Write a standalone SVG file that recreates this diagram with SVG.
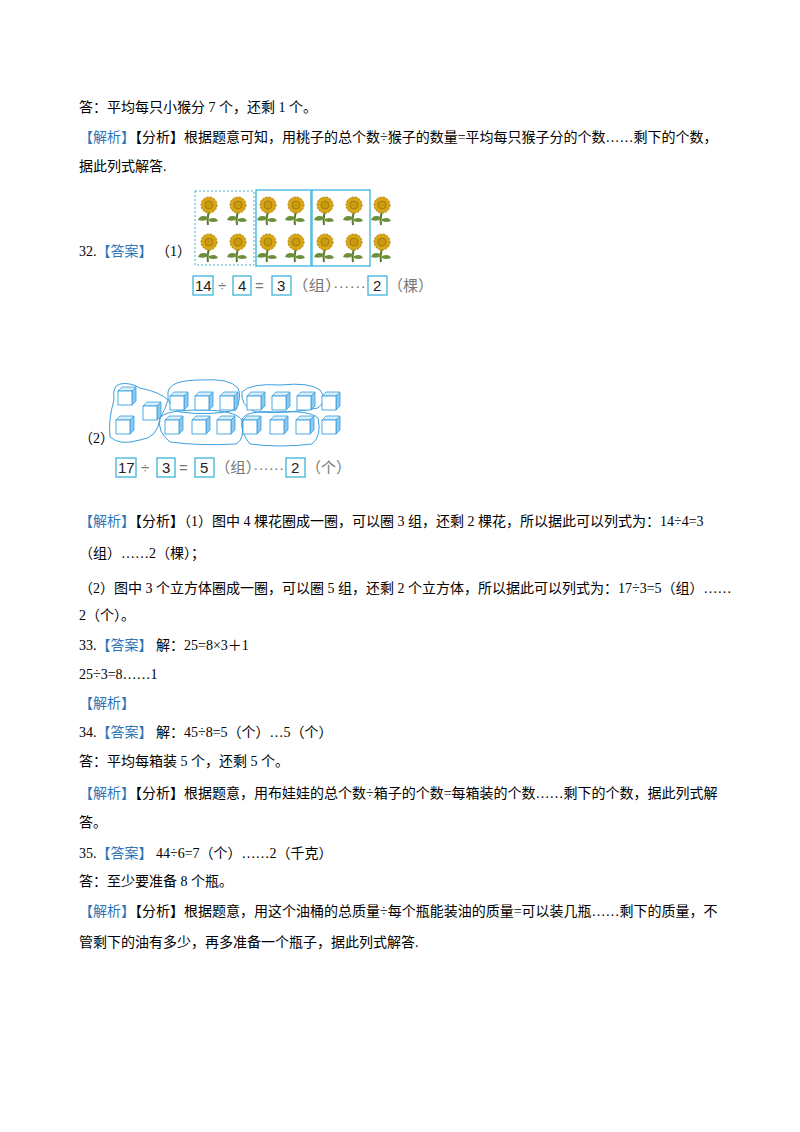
<svg xmlns="http://www.w3.org/2000/svg" width="800" height="1132" viewBox="0 0 800 1132">
<style>
text{font-family:"Liberation Serif","Noto Sans CJK SC",serif;font-size:14px;fill:#000}
.b{fill:#2e75b6}
.eq{font-family:"Liberation Sans","Noto Sans CJK SC",sans-serif;font-size:15px;fill:#222}
.g{fill:#777}
.bx{fill:none;stroke:#3cb4d8;stroke-width:1.3}
.loop{fill:none;stroke:#3b9fe0;stroke-width:1}
</style>
<defs>
<g id="sf">
<path d="M0,6 Q-2,14 -1,20" stroke="#5a7a2a" stroke-width="2" fill="none"/>
<path d="M-1,12 Q-9,9 -11,15 Q-5,17 -1,14Z" fill="#6d8f3a"/>
<path d="M0,14 Q7,11 9,16 Q4,18 0,16Z" fill="#6d8f3a"/>
<circle r="8" fill="#d8a514"/>
<circle r="8" fill="none" stroke="#b08010" stroke-width="1" stroke-dasharray="2 1.5"/>
<circle r="4" fill="#c79a10" stroke="#8a6a10" stroke-width="0.6"/>
</g>
<g id="cube">
<path d="M0,4 L4,0 L18,0 L14,4Z" fill="#d6eefa" stroke="#3b9fe0" stroke-width="0.8"/>
<path d="M14,4 L18,0 L18,14 L14,18Z" fill="#8cc9ee" stroke="#3b9fe0" stroke-width="0.8"/>
<rect x="0" y="4" width="14" height="14" fill="#fff" stroke="#3b9fe0" stroke-width="0.9"/>
</g>
</defs>
<text x="79" y="112">答：平均每只小猴分 7 个，还剩 1 个。</text>
<text x="79" y="142"><tspan class="b">【解析】</tspan>【分析】根据题意可知，用桃子的总个数÷猴子的数量=平均每只猴子分的个数……剩下的个数，</text>
<text x="79" y="171">据此列式解答.</text>
<g id="q32-flowers">
<rect x="195" y="191" width="59" height="74" fill="none" stroke="#3cb4d8" stroke-width="1" stroke-dasharray="2 2"/>
<rect x="256" y="190" width="55" height="76" class="bx"/>
<rect x="312" y="190" width="58" height="76" class="bx"/>
<g>
<use href="#sf" x="209" y="205"/><use href="#sf" x="238" y="205"/><use href="#sf" x="268" y="205"/><use href="#sf" x="296" y="205"/><use href="#sf" x="325" y="205"/><use href="#sf" x="354" y="205"/><use href="#sf" x="382" y="205"/>
<use href="#sf" x="209" y="242"/><use href="#sf" x="238" y="242"/><use href="#sf" x="268" y="242"/><use href="#sf" x="296" y="242"/><use href="#sf" x="325" y="242"/><use href="#sf" x="354" y="242"/><use href="#sf" x="382" y="242"/>
</g>
</g>
<text x="79" y="256">32.<tspan class="b">【答案】</tspan> （1）</text>
<g id="q32-eq1">
<rect x="193" y="276" width="20" height="19" class="bx"/><text x="195" y="291" class="eq">14</text>
<text x="218" y="291" class="eq g">÷</text>
<rect x="233" y="276" width="18" height="19" class="bx"/><text x="238" y="291" class="eq">4</text>
<text x="255" y="291" class="eq g">=</text>
<rect x="272" y="276" width="19" height="19" class="bx"/><text x="277" y="291" class="eq">3</text>
<text x="292" y="291" class="eq g" textLength="74" lengthAdjust="spacingAndGlyphs">（组）······</text>
<rect x="368" y="276" width="19" height="19" class="bx"/><text x="373" y="291" class="eq">2</text>
<text x="388" y="291" class="eq g">（棵）</text>
</g>
<g id="q32-cubes">
<path class="loop" d="M120,384 Q112,386 114,400 Q108,420 110,437 Q120,446 140,440 Q158,438 160,418 Q165,410 168,400 Q160,392 140,388 Q130,382 120,384Z"/>
<path class="loop" d="M168,392 Q170,380 200,380 Q230,378 238,388 Q242,396 236,410 Q210,416 180,412 Q166,406 168,392Z"/>
<path class="loop" d="M242,392 Q250,383 280,385 Q310,382 320,390 Q328,400 318,408 Q290,414 255,412 Q240,405 242,392Z"/>
<path class="loop" d="M160,418 Q165,410 200,410 Q235,410 242,420 Q245,440 236,444 Q200,446 170,442 Q157,432 160,418Z"/>
<path class="loop" d="M242,420 Q245,410 275,412 Q310,410 318,418 Q322,436 312,444 Q280,448 250,444 Q240,432 242,420Z"/>
<use href="#cube" x="118" y="387"/><use href="#cube" x="143" y="402"/>
<use href="#cube" x="170" y="392"/><use href="#cube" x="195" y="392"/><use href="#cube" x="220" y="392"/><use href="#cube" x="247" y="392"/><use href="#cube" x="272" y="392"/><use href="#cube" x="297" y="392"/><use href="#cube" x="322" y="392"/>
<use href="#cube" x="116" y="416"/><use href="#cube" x="165" y="416"/><use href="#cube" x="192" y="416"/><use href="#cube" x="217" y="416"/><use href="#cube" x="243" y="416"/><use href="#cube" x="270" y="416"/><use href="#cube" x="296" y="416"/><use href="#cube" x="322" y="416"/>
</g>
<text x="79" y="443">（2）</text>
<g id="q32-eq2">
<rect x="116" y="458" width="20" height="19" class="bx"/><text x="118" y="473" class="eq">17</text>
<text x="141" y="473" class="eq g">÷</text>
<rect x="157" y="458" width="18" height="19" class="bx"/><text x="162" y="473" class="eq">3</text>
<text x="179" y="473" class="eq g">=</text>
<rect x="195" y="458" width="19" height="19" class="bx"/><text x="200" y="473" class="eq">5</text>
<text x="215" y="473" class="eq g" textLength="69" lengthAdjust="spacingAndGlyphs">（组）······</text>
<rect x="286" y="458" width="19" height="19" class="bx"/><text x="291" y="473" class="eq">2</text>
<text x="306" y="473" class="eq g">（个）</text>
</g>
<text x="79" y="526"><tspan class="b">【解析】</tspan>【分析】（1）图中 4 棵花圈成一圈，可以圈 3 组，还剩 2 棵花，所以据此可以列式为：14÷4=3</text>
<text x="79" y="558">（组）……2（棵）；</text>
<text x="79" y="593">（2）图中 3 个立方体圈成一圈，可以圈 5 组，还剩 2 个立方体，所以据此可以列式为：17÷3=5（组）……</text>
<text x="79" y="620">2（个）。</text>
<text x="79" y="650">33.<tspan class="b">【答案】</tspan> 解：25=8×3＋1</text>
<text x="79" y="679">25÷3=8……1</text>
<text x="79" y="708" class="b">【解析】</text>
<text x="79" y="737">34.<tspan class="b">【答案】</tspan> 解：45÷8=5（个）…5（个）</text>
<text x="79" y="766">答：平均每箱装 5 个，还剩 5 个。</text>
<text x="79" y="798"><tspan class="b">【解析】</tspan>【分析】根据题意，用布娃娃的总个数÷箱子的个数=每箱装的个数……剩下的个数，据此列式解</text>
<text x="79" y="827">答。</text>
<text x="79" y="858">35.<tspan class="b">【答案】</tspan> 44÷6=7（个）……2（千克）</text>
<text x="79" y="886">答：至少要准备 8 个瓶。</text>
<text x="79" y="916"><tspan class="b">【解析】</tspan>【分析】根据题意，用这个油桶的总质量÷每个瓶能装油的质量=可以装几瓶……剩下的质量，不</text>
<text x="79" y="947">管剩下的油有多少，再多准备一个瓶子，据此列式解答.</text>
</svg>
